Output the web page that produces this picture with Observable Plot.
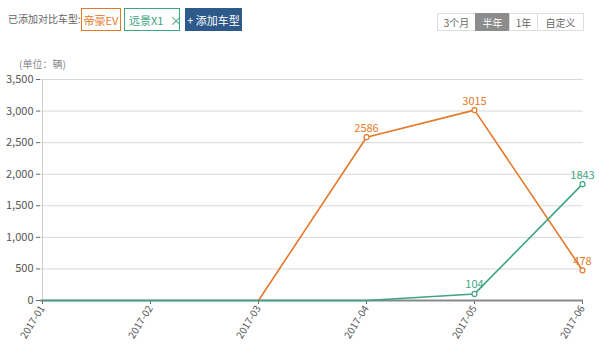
<!DOCTYPE html>
<html><head><meta charset="utf-8">
<script src="https://cdn.jsdelivr.net/npm/d3@7"></script>
<script src="https://cdn.jsdelivr.net/npm/@observablehq/plot@0.6"></script>
<style>
body{margin:0;background:#fff;font-family:"Noto Sans CJK SC","Noto Sans",sans-serif;}
#wrap{position:relative;width:600px;height:355px;overflow:hidden;}
#chart{position:absolute;left:0;top:0;}
.hd{position:absolute;font-size:10px;line-height:1;white-space:nowrap;}
.tag{position:absolute;top:8px;height:23px;box-sizing:border-box;font-size:11px;display:flex;align-items:center;justify-content:center;white-space:nowrap;}
.btn{position:absolute;top:13px;height:18px;box-sizing:border-box;font-size:10px;display:flex;align-items:center;justify-content:center;color:#666;border:1px solid #ddd;background:#fff;white-space:nowrap;}
</style></head>
<body><div id="wrap"><div id="chart"></div></div>
<script>
const months = ["2017-01","2017-02","2017-03","2017-04","2017-05","2017-06"];
const dihaoEV = [0,0,0,2586,3015,478];
const yuanjingX1 = [0,0,0,0,104,1843];
const yTicks = [0,500,1000,1500,2000,2500,3000,3500];
const seriesNames = ["帝豪EV","远景X1"];
const seriesColors = ["#e5782a","#3fa57f"];

const rows = [];
months.forEach((m,i)=>{
  rows.push({month:m, value:dihaoEV[i], series:seriesNames[0]});
  rows.push({month:m, value:yuanjingX1[i], series:seriesNames[1]});
});
const orange = rows.filter(d=>d.series===seriesNames[0] && d.month>="2017-03");
const green = rows.filter(d=>d.series===seriesNames[1]);
const labeled = rows.filter(d=>d.value>0);

const chart = Plot.plot({
  width:600, height:355,
  marginTop:79, marginBottom:55, marginLeft:40, marginRight:17,
  style:{fontFamily:'"Noto Sans CJK SC","Noto Sans",sans-serif', fontSize:"11px", color:"#555", background:"transparent"},
  x:{type:"point", domain:months, padding:0, label:null},
  y:{domain:[0,3500], ticks:yTicks, label:null},
  color:{domain:seriesNames, range:seriesColors},
  marks:[
    Plot.gridY(yTicks,{stroke:"#d8d8d8", strokeOpacity:1}),
    Plot.ruleX([months[0]],{stroke:"#ccc", strokeWidth:1}),
    Plot.axisY(yTicks,{tickFormat:d3.format(","), tickSize:4, tickPadding:3, stroke:"#666", fill:"#555"}),
    Plot.axisX({tickRotate:-58, tickSize:4, tickPadding:2, stroke:"#666", fill:"#555", fontSize:10}),
    Plot.ruleY([0],{stroke:"#888", strokeWidth:2}),
    Plot.line(orange,{x:"month", y:"value", stroke:"series", strokeWidth:1.6}),
    Plot.line(green,{x:"month", y:"value", stroke:"series", strokeWidth:1.6}),
    Plot.dot(labeled,{x:"month", y:"value", stroke:"series", fill:"white", r:2.5, strokeWidth:1.2}),
    Plot.text(labeled,{x:"month", y:"value", text:d=>String(d.value), fill:"series", dy:-9, fontSize:11})
  ]
});
document.getElementById("chart").appendChild(chart);

const wrap = document.getElementById("wrap");
function add(html){wrap.insertAdjacentHTML("beforeend",html);}
add(`<div class="hd" style="left:8px;top:14px;color:#666;">已添加对比车型:</div>`);
add(`<div class="tag" style="left:81px;width:40px;border:1px solid ${seriesColors[0]};color:${seriesColors[0]};">${seriesNames[0]}</div>`);
add(`<div class="tag" style="left:124px;width:56px;border:1px solid ${seriesColors[1]};color:${seriesColors[1]};justify-content:flex-start;padding-left:4px;">${seriesNames[1]}<span style="margin-left:6px;font-size:13px;">×</span></div>`);
add(`<div class="tag" style="left:185px;width:57px;background:#2d5a8a;color:#fff;font-size:11px;">+ 添加车型</div>`);
add(`<div class="btn" style="left:437px;width:39px;">3个月</div>`);
add(`<div class="btn" style="left:475px;width:35px;background:#8c8c8c;color:#fff;border-color:#8c8c8c;">半年</div>`);
add(`<div class="btn" style="left:509px;width:29px;">1年</div>`);
add(`<div class="btn" style="left:537px;width:47px;">自定义</div>`);
add(`<div class="hd" style="left:19px;top:59px;color:#888;">(单位：辆)</div>`);
</script></body></html>
